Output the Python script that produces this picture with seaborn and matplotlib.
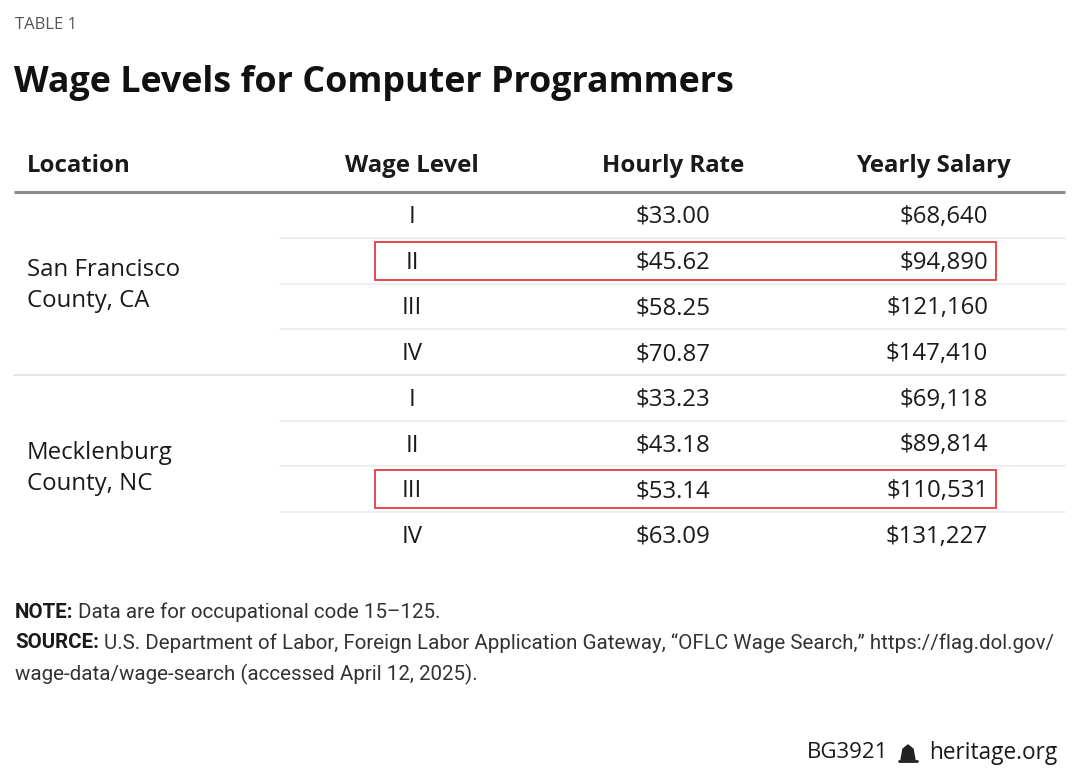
import matplotlib
matplotlib.use("Agg")
import matplotlib.pyplot as plt
import matplotlib.patches as mpatches
import seaborn as sns

sns.set_theme(style="white")
plt.rcParams['font.family'] = ['Open Sans', 'DejaVu Sans']

# table data
locations = ["San Francisco\nCounty, CA", "Mecklenburg\nCounty, NC"]
wage_levels = ["I", "II", "III", "IV"]
hourly = [[33.00, 45.62, 58.25, 70.87],
          [33.23, 43.18, 53.14, 63.09]]
yearly = [[68640, 94890, 121160, 147410],
          [69118, 89814, 110531, 131227]]
highlight = [(0, 1), (1, 2)]  # (group, level) boxed in red
headers = ["Location", "Wage Level", "Hourly Rate", "Yearly Salary"]
note_label = "NOTE:"
note_text = "Data are for occupational code 15\u2013125."
source_label = "SOURCE:"
source_text = ["U.S. Department of Labor, Foreign Labor Application Gateway, \u201cOFLC Wage Search,\u201d https://flag.dol.gov/",
               "wage-data/wage-search (accessed April 12, 2025)."]

fig = plt.figure(figsize=(10.8, 7.75), dpi=100)
ax = fig.add_axes([0, 0, 1, 1])
ax.set_xlim(0, 1080)
ax.set_ylim(775, 0)
ax.axis("off")
renderer = fig.canvas.get_renderer()

txt = "#1a1a1a"
fs = 17.3
ax.text(15, 25, "TABLE 1", fontsize=12, color="#555555", va="center")
ax.text(14, 83, "Wage Levels for Computer Programmers", fontsize=25.8,
        fontweight="bold", color="#111111", va="center")

# header
hy = 166
ax.text(27, hy, headers[0], fontsize=fs, fontweight="bold", color=txt, va="center")
ax.text(412, hy, headers[1], fontsize=fs, fontweight="bold", color=txt, va="center", ha="center")
ax.text(673, hy, headers[2], fontsize=fs, fontweight="bold", color=txt, va="center", ha="center")
ax.text(1011, hy, headers[3], fontsize=fs, fontweight="bold", color=txt, va="center", ha="right")
ax.plot([14, 1065], [192, 192], color="#8a8a8a", lw=2.2, solid_capstyle="butt")

y0 = 215
dy = 45.7
toff = 2  # text sits a touch below row centre
for g, loc in enumerate(locations):
    rows_y = [y0 + (g * 4 + i) * dy for i in range(4)]
    ax.text(27, (rows_y[1] + rows_y[2]) / 2 + toff, loc, fontsize=fs, color=txt,
            va="center", linespacing=1.4)
    for i, lvl in enumerate(wage_levels):
        y = rows_y[i]
        ax.text(412, y + toff, lvl, fontsize=fs, color=txt, va="center", ha="center")
        ax.text(673, y + toff, f"${hourly[g][i]:.2f}", fontsize=fs, color=txt,
                va="center", ha="center")
        ax.text(988, y + toff, f"${yearly[g][i]:,}", fontsize=fs, color=txt,
                va="center", ha="right")
        if i < 3:
            ax.plot([280, 1065], [y + dy / 2, y + dy / 2], color="#ececec", lw=1.2)
        if (g, i) in highlight:
            ax.add_patch(mpatches.Rectangle((375, y - 19), 621, 38, fill=False,
                                            edgecolor="#e8474f", lw=1.4))
    if g == 0:
        ax.plot([14, 1065], [rows_y[3] + dy / 2] * 2, color="#e6e6e6", lw=1.4)

# notes
nfam = ['Roboto', 'DejaVu Sans']
nfs = 14.8


def label_line(y, label, rest):
    t = ax.text(15, y, label, fontsize=nfs, fontweight="bold", color=txt,
                va="center", family=nfam)
    w = t.get_window_extent(renderer=renderer).width
    ax.text(15 + w + 5, y, rest, fontsize=nfs, color="#333333", va="center", family=nfam)


label_line(612, note_label, note_text)
label_line(643, source_label, source_text[0])
ax.text(15, 674, source_text[1], fontsize=nfs, color="#333333", va="center", family=nfam)

# footer
ax.text(888, 753, "BG3921", fontsize=16, color=txt, va="center", ha="right")
bell = mpatches.Polygon([(901, 760), (903, 749), (908, 745), (913, 749), (915, 760)],
                        closed=True, color="#222222")
ax.add_patch(bell)
ax.plot([899, 917], [761, 761], color="#222222", lw=2)
ax.text(929, 753, "heritage.org", fontsize=16.3, color=txt, va="center", ha="left")

fig.savefig("out.png", dpi=100, facecolor="white")
